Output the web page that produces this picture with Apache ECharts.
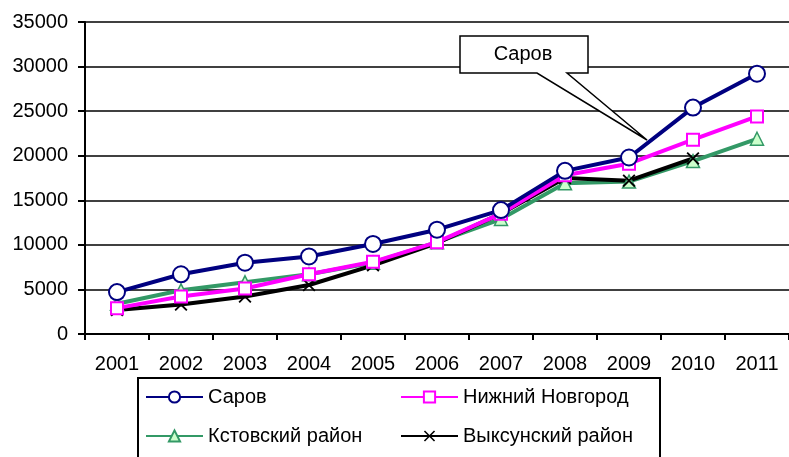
<!DOCTYPE html>
<html>
<head>
<meta charset="utf-8">
<script src="https://cdn.jsdelivr.net/npm/echarts@6/dist/echarts.min.js"></script>
<style>
  html, body { margin: 0; padding: 0; background: #fff; }
  #chart { width: 789px; height: 457px; }
</style>
</head>
<body>
<div id="chart"></div>
<script>
var years = ['2001', '2002', '2003', '2004', '2005', '2006', '2007', '2008', '2009', '2010', '2011'];
var sarov = [4700, 6700, 8000, 8700, 10100, 11700, 13900, 18300, 19800, 25400, 29200];
var nnov = [2900, 4200, 5100, 6700, 8100, 10300, 13500, 17800, 19100, 21800, 24400];
var kstovo = [3400, 4900, 5800, 6700, 8000, 10300, 12900, 16900, 17100, 19400, 21900];
var vyksa = [2700, 3300, 4200, 5500, 7700, 10200, 13500, 17500, 17200, 19700, null];

var crossIcon = 'path://M0,1L1,0L5,4L9,0L10,1L6,5L10,9L9,10L5,6L1,10L0,9L4,5Z';
var font = 'Liberation Sans, Arial, sans-serif';

// одна легенда на каждую серию, чтобы получить две колонки
function legendItem(name, x, y) {
    return {
        left: x,
        top: y,
        padding: 0,
        itemWidth: 57,
        itemHeight: 14,
        textStyle: { color: '#000', fontSize: 20, fontFamily: font },
        data: [name]
    };
}

var chart = echarts.init(document.getElementById('chart'));

var option = {
    backgroundColor: '#fff',
    animation: false,
    grid: { left: 85, top: 22, right: -2, bottom: 123 },
    xAxis: {
        type: 'category',
        data: years,
        boundaryGap: true,
        axisLine: { lineStyle: { color: '#000', width: 2 } },
        axisTick: { show: true, length: 6, lineStyle: { color: '#000', width: 2 } },
        axisLabel: { color: '#000', fontSize: 20, fontFamily: font, margin: 20 }
    },
    yAxis: {
        type: 'value',
        min: 0,
        max: 35000,
        interval: 5000,
        axisLine: { show: true, lineStyle: { color: '#000', width: 2 } },
        axisTick: { show: true, length: 7, lineStyle: { color: '#000', width: 2 } },
        axisLabel: {
            color: '#000', fontSize: 20, fontFamily: font, margin: 17,
            formatter: function (v) { return String(v); }
        },
        splitLine: { lineStyle: { color: '#000', width: 1.5 } }
    },
    legend: [
        legendItem('Саров', 145, 387),
        legendItem('Нижний Новгород', 400, 387),
        legendItem('Кстовский район', 145, 426),
        legendItem('Выксунский район', 400, 426)
    ],
    graphic: [{
        type: 'rect',
        shape: { x: 138, y: 378, width: 522, height: 90 },
        style: { fill: 'none', stroke: '#000', lineWidth: 2 }
    }, {
        type: 'polygon',
        shape: { points: [[460, 36], [588, 36], [588, 73], [567, 73], [647, 140], [537, 73], [460, 73]] },
        style: { fill: '#fff', stroke: '#000', lineWidth: 1.5 },
        z: 100
    }, {
        type: 'text',
        x: 523,
        y: 54,
        style: { text: 'Саров', fill: '#000', font: '20px ' + font, align: 'center', verticalAlign: 'middle' },
        z: 101
    }],
    series: [{
        name: 'Кстовский район',
        type: 'line',
        data: kstovo,
        symbol: 'triangle',
        symbolSize: 13,
        lineStyle: { color: '#339966', width: 4 },
        itemStyle: { color: '#ccffcc', borderColor: '#339966', borderWidth: 1.5 }
    }, {
        name: 'Выксунский район',
        type: 'line',
        data: vyksa,
        symbol: crossIcon,
        symbolSize: 13,
        lineStyle: { color: '#000', width: 4 },
        itemStyle: { color: '#000', borderWidth: 0 }
    }, {
        name: 'Нижний Новгород',
        type: 'line',
        data: nnov,
        symbol: 'rect',
        symbolSize: 12,
        lineStyle: { color: '#ff00ff', width: 4 },
        itemStyle: { color: '#fff', borderColor: '#ff00ff', borderWidth: 2 }
    }, {
        name: 'Саров',
        type: 'line',
        data: sarov,
        symbol: 'circle',
        symbolSize: 16,
        lineStyle: { color: '#000080', width: 4 },
        itemStyle: { color: '#fff', borderColor: '#000080', borderWidth: 2 }
    }]
};

chart.setOption(option);
</script>
</body>
</html>
